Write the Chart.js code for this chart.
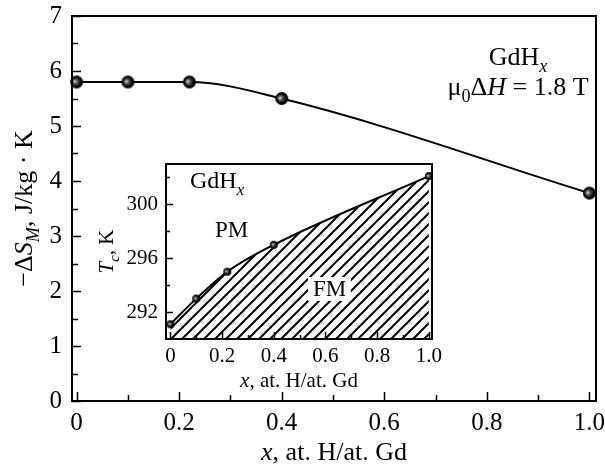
<!DOCTYPE html>
<html><head><meta charset="utf-8">
<script src="https://cdn.jsdelivr.net/npm/chart.js@4.4.1/dist/chart.umd.min.js"></script>
<style>
html,body{margin:0;padding:0;background:#fff;}
#wrap{position:relative;width:605px;height:466px;overflow:hidden;}
#main{position:absolute;left:0;top:0;}
#inset{position:absolute;left:90px;top:156px;}
</style></head><body>
<div id="wrap"><canvas id="main" width="605" height="466"></canvas><canvas id="inset" width="370" height="240"></canvas></div>
<script>
// ---- data ----
const xMain = [0, 0.1, 0.22, 0.4, 1.0];
const dSMain = [5.8, 5.8, 5.8, 5.5, 3.78];
const xInset = [0, 0.1, 0.22, 0.4, 1.0];
const tcInset = [291.1, 293.0, 295.0, 297.0, 302.1];
const mainXTicks = [0, 0.2, 0.4, 0.6, 0.8, 1.0];
const mainYTicks = [0, 1, 2, 3, 4, 5, 6, 7];
const mainXMinor = [0.1, 0.3, 0.5, 0.7, 0.9];
const mainYMinor = [0.5, 1.5, 2.5, 3.5, 4.5, 5.5, 6.5];
const insetXTicks = [0, 0.2, 0.4, 0.6, 0.8, 1.0];
const insetYTicks = [292, 296, 300];
const insetXMinor = [0.1, 0.3, 0.5, 0.7, 0.9];
const insetYMinor = [294, 298, 302];

const FONT = '"Liberation Serif","Times New Roman",serif';

function sphere(r) {
  const c = document.createElement('canvas');
  const s = Math.ceil(r * 2) + 2;
  c.width = s; c.height = s;
  const g = c.getContext('2d');
  const cx = s / 2, cy = s / 2;
  const grad = g.createRadialGradient(cx - r * 0.3, cy - r * 0.1, 0, cx, cy, r);
  grad.addColorStop(0, '#e8e8e8');
  grad.addColorStop(0.3, '#666');
  grad.addColorStop(0.65, '#111');
  grad.addColorStop(1, '#000');
  g.fillStyle = grad;
  g.beginPath(); g.arc(cx, cy, r, 0, Math.PI * 2); g.fill();
  return c;
}

function hatch() {
  const n = 11;
  const c = document.createElement('canvas');
  c.width = n; c.height = n;
  const g = c.getContext('2d');
  g.strokeStyle = '#000'; g.lineWidth = 2;
  g.beginPath();
  g.moveTo(-1, n + 1); g.lineTo(n + 1, -1);
  g.moveTo(-1, 1); g.lineTo(1, -1);
  g.moveTo(n - 1, n + 1); g.lineTo(n + 1, n - 1);
  g.stroke();
  return g.createPattern(c, 'repeat');
}

// rich text: segments {t, it, sub}
function richWidth(ctx, segs, size) {
  let w = 0;
  for (const s of segs) {
    const sz = s.sub ? size * 0.7 : size;
    ctx.font = (s.it ? 'italic ' : '') + sz + 'px ' + FONT;
    w += ctx.measureText(s.t).width;
  }
  return w;
}
function drawRich(ctx, segs, x, y, size, align) {
  const w = richWidth(ctx, segs, size);
  let cx = align === 'center' ? x - w / 2 : (align === 'right' ? x - w : x);
  ctx.textBaseline = 'alphabetic';
  ctx.textAlign = 'left';
  ctx.fillStyle = '#000';
  for (const s of segs) {
    const sz = s.sub ? size * 0.7 : size;
    ctx.font = (s.it ? 'italic ' : '') + sz + 'px ' + FONT;
    ctx.fillText(s.t, cx, y + (s.sub ? size * 0.28 : 0));
    cx += ctx.measureText(s.t).width;
  }
}

function drawFrameTicks(chart, xMaj, xMin, yMaj, yMin, majLen, minLen) {
  const { ctx, chartArea: a, scales: { x, y } } = chart;
  ctx.save();
  ctx.strokeStyle = '#000';
  ctx.lineWidth = 2;
  ctx.strokeRect(a.left, a.top, a.right - a.left, a.bottom - a.top);
  ctx.lineWidth = 1.5;
  ctx.beginPath();
  for (const v of xMaj) { const p = Math.round(x.getPixelForValue(v)) + 0.5; ctx.moveTo(p, a.bottom); ctx.lineTo(p, a.bottom - majLen); }
  for (const v of xMin) { const p = Math.round(x.getPixelForValue(v)) + 0.5; ctx.moveTo(p, a.bottom); ctx.lineTo(p, a.bottom - minLen); }
  for (const v of yMaj) { const p = Math.round(y.getPixelForValue(v)) + 0.5; ctx.moveTo(a.left, p); ctx.lineTo(a.left + majLen, p); }
  for (const v of yMin) { const p = Math.round(y.getPixelForValue(v)) + 0.5; ctx.moveTo(a.left, p); ctx.lineTo(a.left + minLen, p); }
  ctx.stroke();
  ctx.restore();
}

const fmtX = v => (v === 0 ? '0' : v.toFixed(1));
const noPadX = h => s => { s.height = h; s.paddingLeft = 0; s.paddingRight = 0; };
const noPadY = w => s => { s.width = w; s.paddingTop = 0; s.paddingBottom = 0; };

// ---- main chart ----
const mainPlugin = {
  id: 'mainDecor',
  afterDraw(chart) {
    drawFrameTicks(chart, mainXTicks, mainXMinor, mainYTicks, mainYMinor, 9, 6);
    const ctx = chart.ctx;
    const a = chart.chartArea;
    ctx.save();
    drawRich(ctx, [{ t: 'x', it: true }, { t: ', at. H/at. Gd' }], (a.left + a.right) / 2, 460, 26, 'center');
    ctx.save();
    ctx.translate(32, (a.top + a.bottom) / 2);
    ctx.rotate(-Math.PI / 2);
    drawRich(ctx, [{ t: '\u2212\u0394' }, { t: 'S', it: true }, { t: 'M', it: true, sub: true }, { t: ', J/kg \u00b7 K' }], 0, 0, 26, 'center');
    ctx.restore();
    drawRich(ctx, [{ t: 'GdH' }, { t: 'x', it: true, sub: true }], 518, 65, 26, 'center');
    drawRich(ctx, [{ t: '\u03bc' }, { t: '0', sub: true }, { t: '\u0394' }, { t: 'H', it: true }, { t: ' = 1.8 T' }], 518, 95, 26, 'center');
    ctx.restore();
  }
};

new Chart(document.getElementById('main'), {
  type: 'line',
  data: {
    datasets: [{
      data: xMain.map((v, i) => ({ x: v, y: dSMain[i] })),
      borderColor: '#000',
      borderWidth: 2,
      cubicInterpolationMode: 'monotone',
      pointStyle: sphere(6.5),
      pointRadius: 6.5,
      clip: 10,
      fill: false
    }]
  },
  options: {
    responsive: false,
    animation: false,
    devicePixelRatio: 1,
    layout: { padding: { left: 0, right: 9, top: 16, bottom: 0 } },
    plugins: { legend: { display: false }, tooltip: { enabled: false } },
    scales: {
      x: {
        type: 'linear', min: -0.009, max: 1.013,
        grid: { display: false, drawTicks: false }, border: { display: false },
        afterBuildTicks: s => { s.ticks = mainXTicks.map(v => ({ value: v })); },
        afterFit: noPadX(65),
        ticks: { color: '#000', font: { family: FONT, size: 25 }, padding: 7, maxRotation: 0, autoSkip: false, callback: v => fmtX(v) }
      },
      y: {
        type: 'linear', min: 0, max: 7,
        grid: { display: false, drawTicks: false }, border: { display: false },
        afterBuildTicks: s => { s.ticks = mainYTicks.map(v => ({ value: v })); },
        afterFit: noPadY(72),
        ticks: { color: '#000', font: { family: FONT, size: 25 }, padding: 10, autoSkip: false, callback: v => String(v) }
      }
    }
  },
  plugins: [mainPlugin]
});

// ---- inset chart ----
const insetPlugin = {
  id: 'insetDecor',
  beforeDraw(chart) {
    const { ctx, chartArea: a } = chart;
    ctx.save(); ctx.fillStyle = '#fff';
    ctx.fillRect(a.left, a.top, a.right - a.left, a.bottom - a.top);
    ctx.restore();
  },
  afterDraw(chart) {
    const ctx = chart.ctx;
    const a = chart.chartArea;
    const ox = 90, oy = 156;
    ctx.save();
    ctx.fillStyle = '#fff';
    ctx.fillRect(308 - ox, 277 - oy, 43, 24);
    drawRich(ctx, [{ t: 'FM' }], 313 - ox, 296 - oy, 23, 'left');
    drawRich(ctx, [{ t: 'PM' }], 215 - ox, 237 - oy, 23, 'left');
    drawRich(ctx, [{ t: 'GdH' }, { t: 'x', it: true, sub: true }], 190 - ox, 188 - oy, 24, 'left');
    drawRich(ctx, [{ t: 'x', it: true }, { t: ', at. H/at. Gd' }], (a.left + a.right) / 2, 387 - oy, 21, 'center');
    ctx.save();
    ctx.translate(113 - ox, (a.top + a.bottom) / 2);
    ctx.rotate(-Math.PI / 2);
    drawRich(ctx, [{ t: 'T', it: true }, { t: 'c', it: true, sub: true }, { t: ', K' }], 0, 0, 21, 'center');
    ctx.restore();
    ctx.restore();
    drawFrameTicks(chart, insetXTicks, insetXMinor, insetYTicks, insetYMinor, 7, 4);
  }
};

new Chart(document.getElementById('inset'), {
  type: 'line',
  data: {
    datasets: [{
      data: xInset.map((v, i) => ({ x: v, y: tcInset[i] })),
      borderColor: '#000',
      borderWidth: 2,
      cubicInterpolationMode: 'monotone',
      pointStyle: sphere(4),
      pointRadius: 4,
      backgroundColor: hatch(),
      fill: 'start',
      clip: 6
    }]
  },
  options: {
    responsive: false,
    animation: false,
    devicePixelRatio: 1,
    layout: { padding: { left: 0, right: 28, top: 8, bottom: 0 } },
    plugins: { legend: { display: false }, tooltip: { enabled: false } },
    scales: {
      x: {
        type: 'linear', min: -0.017, max: 1.012,
        grid: { display: false, drawTicks: false }, border: { display: false },
        afterBuildTicks: s => { s.ticks = insetXTicks.map(v => ({ value: v })); },
        afterFit: noPadX(57),
        ticks: { color: '#000', font: { family: FONT, size: 21 }, padding: 5, maxRotation: 0, autoSkip: false, callback: v => fmtX(v) }
      },
      y: {
        type: 'linear', min: 290, max: 303,
        grid: { display: false, drawTicks: false }, border: { display: false },
        afterBuildTicks: s => { s.ticks = insetYTicks.map(v => ({ value: v })); },
        afterFit: noPadY(76),
        ticks: { color: '#000', font: { family: FONT, size: 21 }, padding: 8, autoSkip: false, callback: v => String(v) }
      }
    }
  },
  plugins: [insetPlugin]
});
</script>
</body></html>
